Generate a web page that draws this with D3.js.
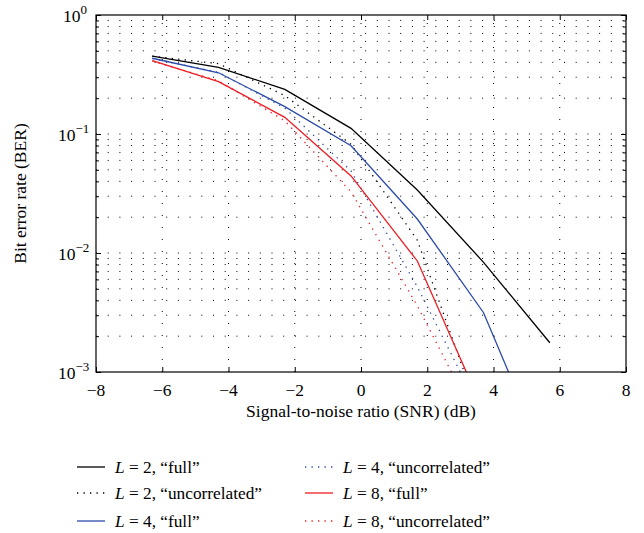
<!DOCTYPE html>
<html><head><meta charset="utf-8">
<script src="https://cdn.jsdelivr.net/npm/d3@7"></script>
<style>body{margin:0;background:#fff}svg{display:block}text{font-family:"Liberation Serif","DejaVu Serif",serif;fill:#000}</style>
</head><body>
<svg id="c" width="644" height="533"></svg>
<script>
// ---- data ----
const snr = [-6.3, -4.3, -2.3, -0.3, 1.7, 3.7, 5.7];
const L2full = [0.452, 0.363, 0.237, 0.1116, 0.0338, 0.00835, 0.00176];
const L2unc  = [0.45, 0.39, 0.21, 0.082, 0.0128, 0.00035];
const L4full = [0.433, 0.327, 0.17, 0.0797, 0.0193, 0.00315, 0.00015];
const L4unc  = [0.43, 0.33, 0.165, 0.0489, 0.0052, 0.00041];
const L8full = [0.413, 0.275, 0.138, 0.0444, 0.00857, 0.00047];
const L8unc  = [0.41, 0.28, 0.129, 0.0326, 0.0036, 0.0003];
const xTicks = [-8, -6, -4, -2, 0, 2, 4, 6, 8];
const yTickExps = [0, -1, -2, -3];
const seriesNames = ['L = 2, “full”','L = 2, “uncorrelated”','L = 4, “full”','L = 4, “uncorrelated”','L = 8, “full”','L = 8, “uncorrelated”'];

const series = [
  {vals: L2full, color: '#000000', dotted: false},
  {vals: L2unc,  color: '#000000', dotted: true},
  {vals: L4full, color: '#2b4ba8', dotted: false},
  {vals: L4unc,  color: '#2b4ba8', dotted: true},
  {vals: L8full, color: '#ee1c24', dotted: false},
  {vals: L8unc,  color: '#ee1c24', dotted: true},
];

const svg = d3.select('#c');
const m = {l: 96, r: 626, t: 15, b: 372};
const x = d3.scaleLinear().domain([-8, 8]).range([m.l, m.r]);
const y = d3.scaleLog().domain([1e-3, 1]).range([m.b, m.t]);

// grid
const minorY = [];
for (let e = -3; e < 0; e++) for (let k = 1; k <= 9; k++) minorY.push(k * Math.pow(10, e));
minorY.push(1);
const grid = svg.append('g');
grid.selectAll('line.h').data(minorY.filter(v => v > 1e-3 && v < 1)).join('line')
  .attr('x1', m.l).attr('x2', m.r).attr('y1', d => y(d)).attr('y2', d => y(d))
  .attr('stroke', '#000').attr('stroke-width', 1).attr('stroke-dasharray', '1,10.7');
grid.selectAll('line.v').data(xTicks.filter(v => v > -8 && v < 8)).join('line')
  .attr('x1', d => x(d)).attr('x2', d => x(d)).attr('y1', m.b).attr('y2', m.t)
  .attr('stroke', '#000').attr('stroke-width', 1).attr('stroke-dasharray', '1,11');

// clip
svg.append('clipPath').attr('id', 'clip').append('rect')
  .attr('x', m.l).attr('y', m.t).attr('width', m.r - m.l).attr('height', m.b - m.t);

const line = d3.line().x((d, i) => x(snr[i])).y(d => y(d));
const plot = svg.append('g').attr('clip-path', 'url(#clip)');
series.forEach(s => {
  plot.append('path').attr('d', line(s.vals)).attr('fill', 'none')
    .attr('stroke', s.color).attr('stroke-width', 1.3)
    .attr('stroke-dasharray', s.dotted ? '1.3,5.2' : null);
});

// axes frame
svg.append('rect').attr('x', m.l).attr('y', m.t).attr('width', m.r - m.l).attr('height', m.b - m.t)
  .attr('fill', 'none').attr('stroke', '#000').attr('stroke-width', 1.2);

// ticks
const axB = d3.axisBottom(x).tickValues(xTicks).tickSizeInner(-5).tickSizeOuter(0).tickFormat(() => '');
const axT = d3.axisTop(x).tickValues(xTicks).tickSizeInner(-5).tickSizeOuter(0).tickFormat(() => '');
svg.append('g').attr('transform', `translate(0,${m.b})`).call(axB).call(g => g.select('.domain').remove());
svg.append('g').attr('transform', `translate(0,${m.t})`).call(axT).call(g => g.select('.domain').remove());
const majY = yTickExps.map(e => Math.pow(10, e));
const minY = minorY.filter(v => !majY.some(M => Math.abs(M - v) < 1e-12));
[[d3.axisLeft, m.l], [d3.axisRight, m.r]].forEach(([f, px]) => {
  svg.append('g').attr('transform', `translate(${px},0)`)
    .call(f(y).tickValues(majY).tickSizeInner(-5).tickSizeOuter(0).tickFormat(() => ''))
    .call(g => g.select('.domain').remove());
  svg.append('g').attr('transform', `translate(${px},0)`)
    .call(f(y).tickValues(minY).tickSizeInner(-3).tickSizeOuter(0).tickFormat(() => ''))
    .call(g => g.select('.domain').remove());
});
svg.selectAll('.tick line').attr('stroke', '#000').attr('stroke-width', 1);

// tick labels
svg.append('g').selectAll('text').data(xTicks).join('text')
  .attr('x', d => x(d)).attr('y', m.b + 24).attr('text-anchor', 'middle')
  .attr('font-size', 17.5).text(d => d < 0 ? '−' + Math.abs(d) : d);
const yl = svg.append('g').selectAll('text').data(yTickExps).join('text')
  .attr('y', d => y(Math.pow(10, d)) + 7).attr('font-size', 17.5);
yl.append('tspan').text('10');
yl.append('tspan').attr('dy', -8).attr('font-size', 13).text(d => d < 0 ? '−' + Math.abs(d) : d);
yl.attr('text-anchor', 'start').attr('x', d => d < 0 ? 58 : 63);

// axis labels
svg.append('text').attr('x', (m.l + m.r) / 2).attr('y', 417).attr('text-anchor', 'middle')
  .attr('font-size', 17.5).text('Signal-to-noise ratio (SNR) (dB)');
svg.append('text').attr('transform', `translate(26,${(m.t + m.b) / 2}) rotate(-90)`)
  .attr('text-anchor', 'middle').attr('font-size', 17.5).text('Bit error rate (BER)');

// legend
const legPos = [[77, 467], [77, 493], [77, 521], [305, 467], [305, 493], [305, 521]];
series.forEach((s, i) => {
  const [lx, ly] = legPos[i];
  svg.append('line').attr('x1', lx).attr('x2', lx + 28).attr('y1', ly).attr('y2', ly)
    .attr('stroke', s.color).attr('stroke-width', 1.3).attr('stroke-dasharray', s.dotted ? '1.3,5.2' : null);
  const name = seriesNames[i];
  const t = svg.append('text').attr('x', lx + 38).attr('y', ly + 6).attr('font-size', 17.3);
  t.append('tspan').attr('font-style', 'italic').text(name.slice(0, 1));
  t.append('tspan').text(name.slice(1));
});
</script>
</body></html>
